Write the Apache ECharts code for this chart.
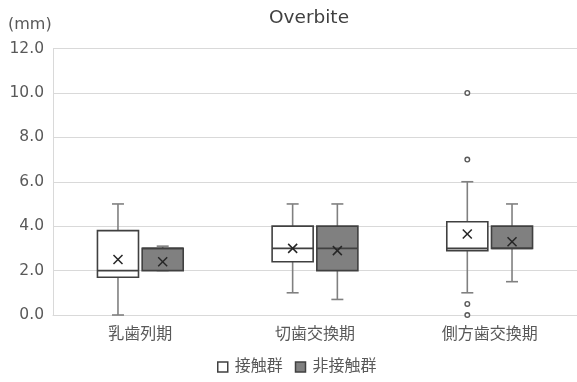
<!DOCTYPE html>
<html>
<head>
<meta charset="utf-8">
<script src="https://cdn.jsdelivr.net/npm/echarts@6/dist/echarts.min.js"></script>
<style>
  html, body { margin: 0; padding: 0; background: #fff; }
  #chart { width: 577px; height: 382px; }
</style>
</head>
<body>
<div id="chart"></div>
<script>
// Stage categories along the x axis
const categories = ['乳歯列期', '切歯交換期', '側方歯交換期'];
// Box statistics per stage: [min, Q1, median, Q3, max]
const contactBoxes = [
  [0.0, 1.7, 2.0, 3.8, 5.0],
  [1.0, 2.4, 3.0, 4.0, 5.0],
  [1.0, 2.9, 3.0, 4.2, 6.0]
];
const nonContactBoxes = [
  [2.0, 2.0, 3.0, 3.0, 3.1],
  [0.7, 2.0, 3.0, 4.0, 5.0],
  [1.5, 3.0, 3.0, 4.0, 5.0]
];
// Means (drawn as ×)
const contactMeans = [2.5, 3.0, 3.65];
const nonContactMeans = [2.4, 2.9, 3.3];
// Outliers: [stage index, value]
const contactOutliers = [[2, 10.0], [2, 7.0], [2, 0.5], [2, 0.0]];
// Y axis ticks
const yTicks = [0, 2, 4, 6, 8, 10, 12];

const FONT = 'DejaVu Sans, Noto Sans CJK JP, sans-serif';
const TEXT = '#595959';

function rows(boxes, means) {
  return boxes.map((b, i) => [i].concat(b, [means[i]]));
}

function boxRenderer(offsetRatio, fill, stroke) {
  return function (params, api) {
    const idx = api.value(0);
    const band = api.size([1, 0])[0];
    const cx = api.coord([idx, 0])[0] + band * offsetRatio;
    const w = band * 0.235;
    const y = v => api.coord([idx, v])[1];
    const yMin = y(api.value(1)), yQ1 = y(api.value(2)), yMed = y(api.value(3)),
          yQ3 = y(api.value(4)), yMax = y(api.value(5)), yMean = y(api.value(6));
    const cap = 6;
    const whisker = { stroke: '#808080', lineWidth: 1.6 };
    const m = 4.5;
    return {
      type: 'group',
      children: [
        { type: 'line', shape: { x1: cx, y1: yQ3, x2: cx, y2: yMax }, style: whisker },
        { type: 'line', shape: { x1: cx - cap, y1: yMax, x2: cx + cap, y2: yMax }, style: whisker },
        { type: 'line', shape: { x1: cx, y1: yQ1, x2: cx, y2: yMin }, style: whisker },
        { type: 'line', shape: { x1: cx - cap, y1: yMin, x2: cx + cap, y2: yMin }, style: whisker },
        { type: 'rect', shape: { x: cx - w / 2, y: yQ3, width: w, height: yQ1 - yQ3 },
          style: { fill: fill, stroke: stroke, lineWidth: 1.6 } },
        { type: 'line', shape: { x1: cx - w / 2, y1: yMed, x2: cx + w / 2, y2: yMed },
          style: { stroke: stroke, lineWidth: 1.6 } },
        { type: 'line', shape: { x1: cx - m, y1: yMean - m, x2: cx + m, y2: yMean + m },
          style: { stroke: '#262626', lineWidth: 1.5 } },
        { type: 'line', shape: { x1: cx - m, y1: yMean + m, x2: cx + m, y2: yMean - m },
          style: { stroke: '#262626', lineWidth: 1.5 } }
      ]
    };
  };
}

function outlierRenderer(offsetRatio) {
  return function (params, api) {
    const idx = api.value(0);
    const band = api.size([1, 0])[0];
    const p = api.coord([idx, api.value(1)]);
    return {
      type: 'circle',
      shape: { cx: p[0] + band * offsetRatio, cy: p[1], r: 2.3 },
      style: { fill: '#fff', stroke: '#595959', lineWidth: 1.4 }
    };
  };
}

const chart = echarts.init(document.getElementById('chart'), null, { renderer: 'canvas' });
chart.setOption({
  animation: false,
  graphic: [
    {
      type: 'text', x: 309, y: 18,
      style: { text: 'Overbite', font: '18.5px ' + FONT, fill: '#404040',
        align: 'center', verticalAlign: 'middle' }
    },
    {
      type: 'text', x: 8, y: 25,
      style: { text: '(mm)', font: '16px ' + FONT, fill: TEXT, verticalAlign: 'middle' }
    }
  ],
  legend: {
    bottom: 2, left: 212, itemWidth: 10, itemHeight: 10, itemGap: 12,
    textStyle: { fontFamily: FONT, fontSize: 16, color: TEXT, padding: [0, 0, 0, 2] },
    data: [
      { name: '接触群', icon: 'rect', itemStyle: { color: '#fff', borderColor: '#404040', borderWidth: 1.5 } },
      { name: '非接触群', icon: 'rect', itemStyle: { color: '#808080', borderColor: '#404040', borderWidth: 1.5 } }
    ]
  },
  grid: { left: 53, right: 0, top: 48.5, bottom: 67 },
  xAxis: {
    type: 'category', data: categories,
    axisLine: { lineStyle: { color: '#d9d9d9' } },
    axisTick: { show: false },
    axisLabel: { margin: 12, fontFamily: FONT, fontSize: 16, color: TEXT }
  },
  yAxis: {
    type: 'value', min: yTicks[0], max: yTicks[yTicks.length - 1], interval: 2,
    axisLine: { show: true, lineStyle: { color: '#d9d9d9' } },
    axisTick: { show: false },
    splitLine: { lineStyle: { color: '#d9d9d9', width: 1 } },
    axisLabel: { margin: 9, fontFamily: FONT, fontSize: 15.5, color: TEXT,
      formatter: v => v.toFixed(1) }
  },
  series: [
    {
      name: '接触群', type: 'custom', itemStyle: { color: '#fff' },
      renderItem: boxRenderer(-0.128, '#ffffff', '#404040'),
      encode: { x: 0, y: [1, 2, 3, 4, 5, 6] },
      data: rows(contactBoxes, contactMeans)
    },
    {
      name: '非接触群', type: 'custom', itemStyle: { color: '#808080' },
      renderItem: boxRenderer(0.128, '#808080', '#404040'),
      encode: { x: 0, y: [1, 2, 3, 4, 5, 6] },
      data: rows(nonContactBoxes, nonContactMeans)
    },
    {
      name: '接触群', type: 'custom', itemStyle: { color: '#fff' },
      renderItem: outlierRenderer(-0.128),
      encode: { x: 0, y: 1 },
      data: contactOutliers
    }
  ]
});
</script>
</body>
</html>
